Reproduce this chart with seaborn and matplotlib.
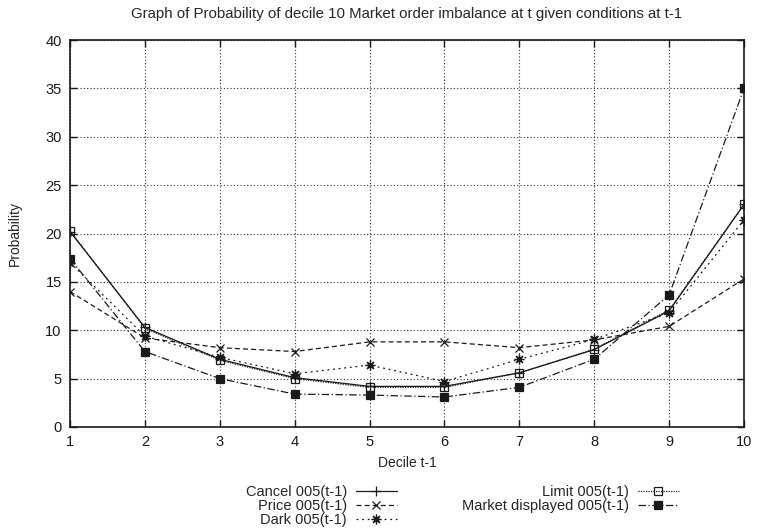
import matplotlib
matplotlib.use("Agg")
import matplotlib.pyplot as plt
import seaborn as sns
import pandas as pd

deciles = [1, 2, 3, 4, 5, 6, 7, 8, 9, 10]
cancel = [20.2, 10.3, 7.0, 5.1, 4.2, 4.2, 5.6, 8.0, 12.0, 23.0]
price = [14.0, 9.2, 8.2, 7.8, 8.8, 8.8, 8.2, 9.0, 10.4, 15.3]
dark = [17.0, 9.4, 7.2, 5.5, 6.4, 4.7, 7.0, 9.05, 11.8, 21.4]
limit = [20.3, 10.2, 6.9, 5.0, 4.1, 4.1, 5.6, 8.05, 12.1, 23.0]
market = [17.4, 7.8, 5.0, 3.4, 3.3, 3.1, 4.1, 7.0, 13.65, 35.0]

labels = ["Cancel 005(t-1)", "Price 005(t-1)", "Dark 005(t-1)",
          "Limit 005(t-1)", "Market displayed 005(t-1)"]
xticks = [1, 2, 3, 4, 5, 6, 7, 8, 9, 10]
yticks = [0, 5, 10, 15, 20, 25, 30, 35, 40]

sns.set_theme(style="white")
plt.rcParams["font.family"] = ["Liberation Sans", "DejaVu Sans"]

fig = plt.figure(figsize=(7.57, 5.32), dpi=100)
ax = fig.add_axes([70 / 757, 1 - 427 / 532, (744 - 70) / 757, (427 - 40) / 532])

series = [cancel, price, dark, limit, market]
styles = [
    dict(marker="+", linestyle="-", markersize=7, markerfacecolor="k"),
    dict(marker="x", linestyle=(0, (4, 2.5)), markersize=5.5, markerfacecolor="k"),
    dict(marker=(8, 2, 0), linestyle=(0, (1.5, 3)), markersize=7, markerfacecolor="k"),
    dict(marker="s", linestyle=(0, (1, 1)), markersize=6, markerfacecolor="none"),
    dict(marker="s", linestyle=(0, (6, 2, 1, 2)), markersize=6, markerfacecolor="k"),
]
for vals, lab, st in zip(series, labels, styles):
    df = pd.DataFrame({"x": deciles, "y": vals})
    sns.lineplot(data=df, x="x", y="y", ax=ax, color="k", label=lab,
                 linewidth=0.9, markeredgecolor="k", markeredgewidth=0.9, **st)

ax.set_xlim(1, 10)
ax.set_ylim(0, 40)
ax.set_xticks(xticks)
ax.set_yticks(yticks)
ax.tick_params(direction="in", length=5, width=1, colors="k", labelsize=10.5,
               top=True, right=True, bottom=True, left=True, pad=6)
ax.grid(True, linestyle=(0, (1, 2)), color="#333333", linewidth=0.8)
for s in ax.spines.values():
    s.set_color("k")
    s.set_linewidth(1.2)

ax.set_xlabel("Decile t-1", fontsize=10, labelpad=5)
ax.set_ylabel("Probability", fontsize=10, labelpad=17)
ax.set_title("Graph of Probability of decile 10 Market order imbalance at t given conditions at t-1",
             fontsize=10.8, pad=16)

leg = ax.legend(loc="upper center", bbox_to_anchor=(0.582, -0.135), ncol=2,
                markerfirst=False, frameon=False, fontsize=10.5,
                handlelength=2.8, handletextpad=0.6, columnspacing=4.5,
                labelspacing=0.0, borderaxespad=0)

fig.savefig("out.png", dpi=100)
